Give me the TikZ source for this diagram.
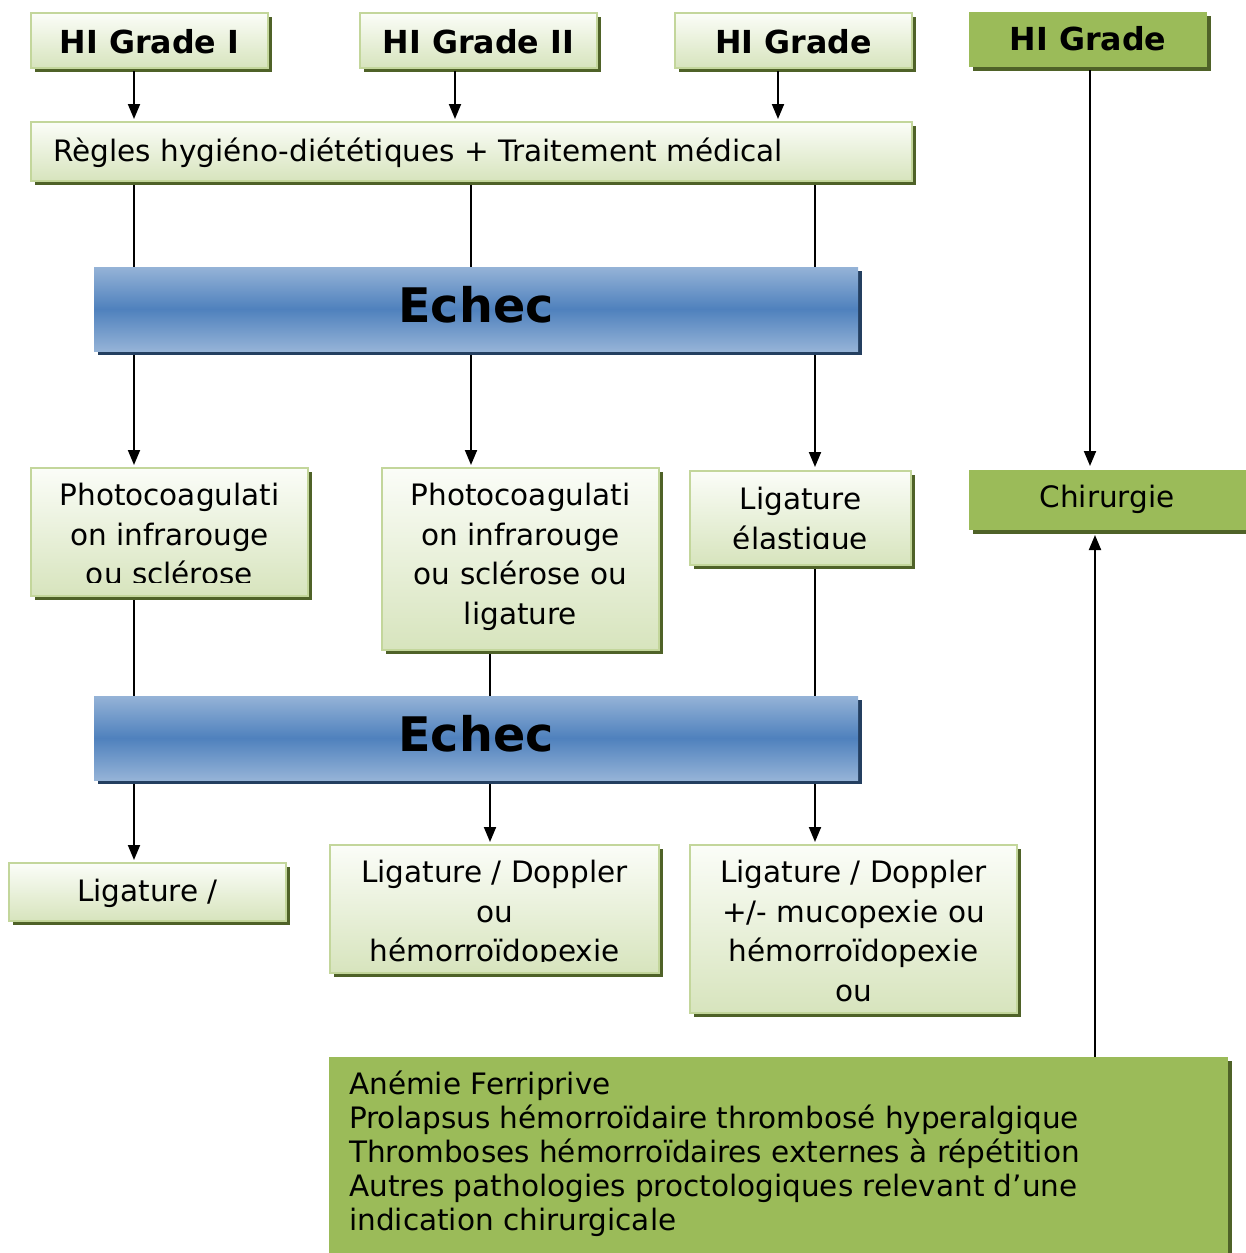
\documentclass[tikz,border=0pt]{standalone}
\usepackage{fontspec}
\setmainfont{DejaVu Sans}
\usetikzlibrary{shadows,arrows.meta}
\definecolor{lgborder}{HTML}{C3D69B}
\definecolor{gtop}{HTML}{FBFDF8}
\definecolor{gbot}{HTML}{D7E4BD}
\definecolor{gshadow}{HTML}{4F6228}
\definecolor{gfill}{HTML}{9BBB59}
\definecolor{btop}{HTML}{95B3D7}
\definecolor{bmid}{HTML}{4F81BD}
\definecolor{bshadow}{HTML}{243F60}
\tikzset{
  boxbase/.style={anchor=north west, inner sep=0pt, outer sep=0pt},
  lbox/.style={boxbase, draw=lgborder, line width=1.5pt, top color=gtop, bottom color=gbot,
    general shadow={fill=gshadow, shadow xshift=4pt, shadow yshift=-4pt}},
  gbox/.style={boxbase, fill=gfill,
    general shadow={fill=gshadow, shadow xshift=4pt, shadow yshift=-4pt}},
  ebox/.style={boxbase, top color=btop, bottom color=btop, middle color=bmid,
    general shadow={fill=bshadow, shadow xshift=4pt, shadow yshift=-4pt}},
  txt/.style={inner sep=0pt, align=center, font=\fontsize{29.5}{39.5}\selectfont},
  gradetxt/.style={inner sep=0pt, anchor=base, font=\bfseries\fontsize{31.7}{37}\selectfont},
  echectxt/.style={inner sep=0pt, anchor=base, font=\bfseries\fontsize{47.6}{52}\selectfont},
  arr/.style={line width=1.9pt, -{Triangle[width=12pt,length=15pt]}},
  ln/.style={line width=1.9pt},
}
\newcommand{\mkbox}[6]{\node[#1, minimum width={(#5-#3)*1pt}, minimum height={(#6-#4)*1pt}] (#2) at (#3,-#4) {};}
\begin{document}
\begin{tikzpicture}[x=1pt,y=1pt]
\useasboundingbox (0,0) rectangle (1246,-1253);
% top row
\mkbox{lbox}{g1}{31}{13}{268}{68}
\node[gradetxt] (tg1) at (149.5,-53) {HI Grade I};
\mkbox{lbox}{g2}{360}{13}{597}{68}
\node[gradetxt] (tg2) at (478.5,-53) {HI Grade II};
\mkbox{lbox}{g3}{675}{13}{912}{68}
\node[gradetxt] (tg3) at (793.5,-53) {HI Grade};
\mkbox{gbox}{g4}{969}{12}{1207}{67}
\node[gradetxt] (tg4) at (1088,-50) {HI Grade};
% regles
\mkbox{lbox}{regles}{31}{122}{912}{181}
\node[txt, anchor=base west] (tregles) at (53,-161) {Règles hygiéno-diététiques + Traitement médical};
% echec 1
\mkbox{ebox}{echec1}{94}{267}{858}{351}
\node[echectxt] (techec1) at (476,-322) {Echec};
% second row
\mkbox{lbox}{photo1}{31}{468}{308}{596}
\begin{scope}
\clip (31,-468) rectangle (308,-582);
\node[txt, anchor=north] (tphoto1) at (169.5,-478) {\strut Photocoagulati\\on infrarouge\\ou sclérose};
\end{scope}
\mkbox{lbox}{photo2}{382}{468}{659}{650}
\node[txt, anchor=north] (tphoto2) at (520.5,-478) {\strut Photocoagulati\\on infrarouge\\ou sclérose ou\\ligature};
\mkbox{lbox}{ligel}{690}{471}{911}{565}
\begin{scope}
\clip (690,-471) rectangle (911,-548);
\node[txt, anchor=north] (tligel) at (800.5,-482) {\strut Ligature\\élastique};
\end{scope}
\mkbox{gbox}{chir}{969}{470}{1250}{530}
\node[txt, anchor=base] (tchir) at (1107,-507) {Chirurgie};
% echec 2
\mkbox{ebox}{echec2}{94}{696}{858}{780}
\node[echectxt] (techec2) at (476,-751) {Echec};
% third row
\mkbox{lbox}{lig1}{9}{863}{286}{921}
\node[txt, anchor=base] (tlig1) at (147.5,-901) {Ligature /};
\mkbox{lbox}{lig2}{330}{845}{659}{973}
\begin{scope}
\clip (330,-845) rectangle (659,-961);
\node[txt, anchor=north] (tlig2) at (494.5,-855) {\strut Ligature / Doppler\\ou\\hémorroïdopexie};
\end{scope}
\mkbox{lbox}{lig3}{690}{845}{1017}{1013}
\node[txt, anchor=north] (tlig3) at (853.5,-855) {\strut Ligature / Doppler\\+/- mucopexie ou\\hémorroïdopexie\\ou};
% bottom
\mkbox{gbox}{crit}{329}{1057}{1228}{1275}
\begin{scope}
\clip (329,-1057) rectangle (1228,-1253);
\node[inner sep=0pt, align=left, anchor=north west, font=\fontsize{29.5}{34}\selectfont] (tcrit) at (349,-1070) {\strut Anémie Ferriprive\\Prolapsus hémorroïdaire thrombosé hyperalgique\\Thromboses hémorroïdaires externes à répétition\\Autres pathologies proctologiques relevant d’une\\indication chirurgicale};
\end{scope}
% connectors
\draw[arr, shorten <=3pt, shorten >=3pt] (g1.south -| 134,0) -- (regles.north -| 134,0);
\draw[arr, shorten <=3pt, shorten >=3pt] (g2.south -| 455,0) -- (regles.north -| 455,0);
\draw[arr, shorten <=3pt, shorten >=3pt] (g3.south -| 778,0) -- (regles.north -| 778,0);
\draw[arr, shorten <=3pt, shorten >=4pt] (g4.south -| 1090,0) -- (chir.north -| 1090,0);
\draw[ln, shorten <=4pt] (regles.south -| 134,0) -- (echec1.north -| 134,0);
\draw[ln, shorten <=4pt] (regles.south -| 471,0) -- (echec1.north -| 471,0);
\draw[ln, shorten <=4pt] (regles.south -| 815,0) -- (echec1.north -| 815,0);
\draw[arr, shorten <=4pt, shorten >=3pt] (echec1.south -| 134,0) -- (photo1.north -| 134,0);
\draw[arr, shorten <=4pt, shorten >=3pt] (echec1.south -| 471,0) -- (photo2.north -| 471,0);
\draw[arr, shorten <=4pt, shorten >=4pt] (echec1.south -| 815,0) -- (ligel.north -| 815,0);
\draw[ln, shorten <=4pt] (photo1.south -| 134,0) -- (echec2.north -| 134,0);
\draw[ln, shorten <=4pt] (photo2.south -| 490,0) -- (echec2.north -| 490,0);
\draw[ln, shorten <=4pt] (ligel.south -| 815,0) -- (echec2.north -| 815,0);
\draw[arr, shorten <=4pt, shorten >=3pt] (echec2.south -| 134,0) -- (lig1.north -| 134,0);
\draw[arr, shorten <=4pt, shorten >=3pt] (echec2.south -| 490,0) -- (lig2.north -| 490,0);
\draw[arr, shorten <=4pt, shorten >=3pt] (echec2.south -| 815,0) -- (lig3.north -| 815,0);
\draw[arr, shorten >=5pt] (crit.north -| 1095,0) -- (chir.south -| 1095,0);
\end{tikzpicture}
\end{document}
